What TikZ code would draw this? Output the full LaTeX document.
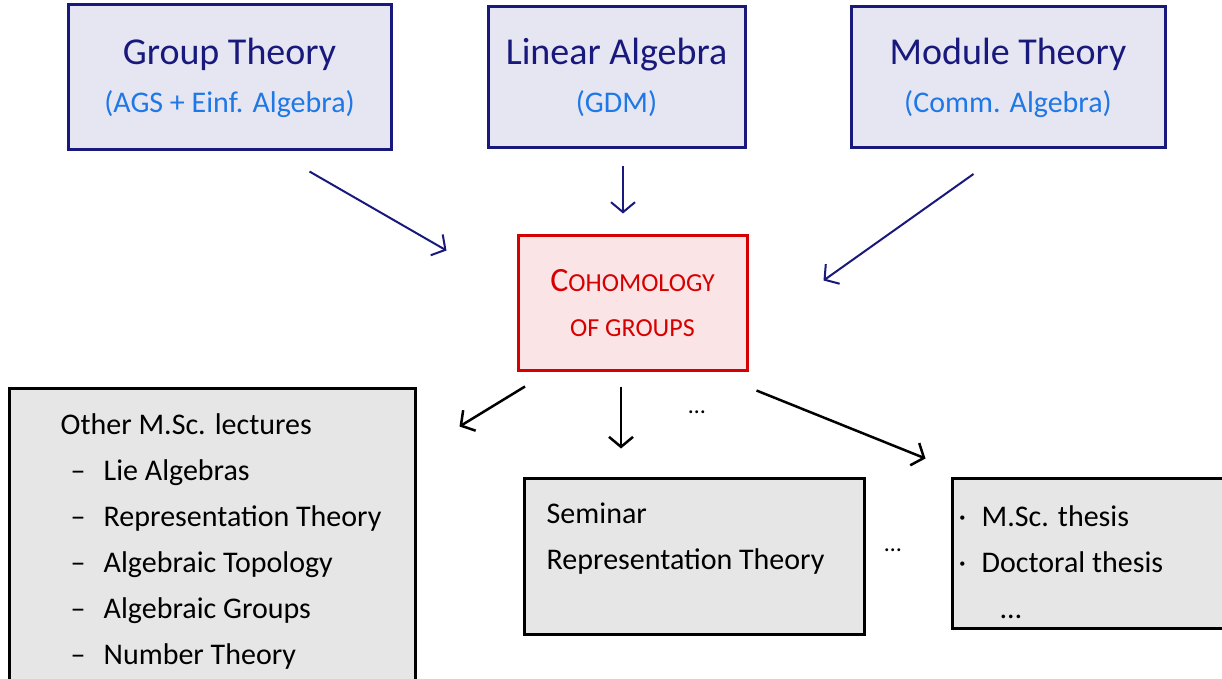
\documentclass[tikz,border=0pt]{standalone}
\usepackage{fontspec}
\setmainfont{Carlito}
\usetikzlibrary{arrows.meta}

\definecolor{navy}{RGB}{25,25,125}
\definecolor{lavender}{RGB}{230,230,242}
\definecolor{skyblue}{RGB}{30,120,230}
\definecolor{cohred}{RGB}{215,0,0}
\definecolor{cohpink}{RGB}{250,228,230}
\definecolor{lightgrey}{RGB}{230,230,230}

\newcommand{\subline}[1]{{\color{skyblue}\fontsize{30}{40}\selectfont #1}}
\newcommand{\listdash}{\hspace*{10pt}\makebox[33pt][l]{--}}
\newcommand{\listdot}{\makebox[23pt][l]{\textperiodcentered}}

\begin{document}
\begin{tikzpicture}[x=1pt, y=1pt,
  >={Straight Barb[length=10pt, width=24pt]},
  topbox/.style={draw=navy, fill=lavender, line width=3pt, align=center,
    text=navy, font=\fontsize{38}{48}\selectfont},
  greybox/.style={draw=black, fill=lightgrey, line width=3pt},
  hand/.style={align=left, inner sep=0pt, font=\fontsize{30}{46}\selectfont},
  navyarrow/.style={->, draw=navy, line width=2pt},
  blackarrow/.style={->, draw=black, line width=2.5pt}]
\clip (0,0) rectangle (1222,678);

% prerequisites
\node[topbox, minimum width=323pt, minimum height=145pt] (group) at (229.5,600.5)
  {Group Theory\\\subline{(AGS + Einf. Algebra)}};
\node[topbox, minimum width=257pt, minimum height=141pt] (linalg) at (616.5,600.5)
  {Linear Algebra\\\subline{(GDM)}};
\node[topbox, minimum width=314pt, minimum height=141pt] (module) at (1008,600.5)
  {Module Theory\\\subline{(Comm. Algebra)}};

% the lecture
\node[draw=cohred, fill=cohpink, line width=3pt, minimum width=229pt, minimum height=134pt,
  text=cohred, align=center, font=\fontsize{26}{45}\selectfont] (coh) at (632.5,375)
  {{\fontsize{34}{45}\selectfont C}OHOMOLOGY\\OF GROUPS};

% what comes after
\node[greybox, minimum width=406pt, minimum height=320pt] (other) at (212,130) {};
\node[hand, anchor=north west] (othertext) at ([shift={(53,-27)}]other.north west)
  {Other M.Sc. lectures\\
   \listdash Lie Algebras\\
   \listdash Representation Theory\\
   \listdash Algebraic Topology\\
   \listdash Algebraic Groups\\
   \listdash Number Theory};

\node[greybox, minimum width=340pt, minimum height=156pt] (seminar) at (694,122) {};
\node[hand, anchor=north west] (seminartext) at ([shift={(24,-26)}]seminar.north west)
  {Seminar\\Representation Theory};

\node[greybox, minimum width=288pt, minimum height=150pt] (thesis) at (1096,125) {};
\node[hand, anchor=north west] (thesistext) at ([shift={(8,-29)}]thesis.north west)
  {\listdot M.Sc. thesis\\\listdot Doctoral thesis\\\hspace*{42pt}\dots};

\node[font=\fontsize{24}{24}\selectfont] (dotsA) at (697,266) {\dots};
\node[font=\fontsize{24}{24}\selectfont] (dotsB) at (893,128) {\dots};

% arrows
\draw[navyarrow] ([shift={(-83,-20)}]group.south east) -- ([shift={(-70,-16)}]coh.north west);
\draw[navyarrow] ([shift={(6.5,-17)}]linalg.south) -- ([shift={(-9.5,21)}]coh.north);
\draw[navyarrow] ([shift={(124,-24.5)}]module.south west) -- ([shift={(75,-46)}]coh.north east);
\draw[blackarrow] ([shift={(-107.5,-15)}]coh.south) -- ([shift={(43,-40)}]other.north east);
\draw[blackarrow] ([shift={(-11.5,-15)}]coh.south) -- ([shift={(-73,28)}]seminar.north);
\draw[blackarrow] ([shift={(8,-19)}]coh.south east) -- ([shift={(-25,18)}]thesis.north west);
\end{tikzpicture}
\end{document}
